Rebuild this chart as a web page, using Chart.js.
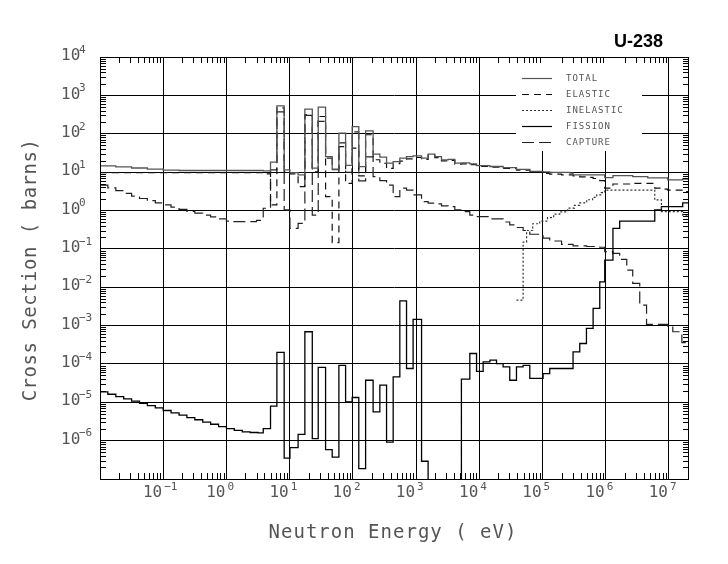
<!DOCTYPE html>
<html lang="en">
<head>
<meta charset="UTF-8" />
<title>U-238</title>
<script src="https://cdn.jsdelivr.net/npm/chart.js@4"></script>
<style>
  html, body { margin: 0; padding: 0; background: #fff; }
</style>
</head>
<body>
<canvas id="myChart" width="728" height="564"></canvas>
<script>
// energies in eV, cross sections in barns (each value holds until the next energy)
const totalE  = [0.01, 0.0178, 0.0316, 0.0562, 0.1, 0.178, 3.82, 4.98, 6.28, 8.19, 10.1, 13.6, 17.4, 22.8, 28.3, 37.0, 47.1, 60.1, 76.7, 97.5, 124, 159, 209, 267, 341, 434, 553, 706, 897, 1220, 1549, 1977, 2523, 3214, 4100, 5210, 7080, 9040, 14700, 23800, 38700, 62900, 102000, 130000, 270000, 304000, 964000, 1.30e6, 2.67e6, 4.62e6, 9.55e6, 1.65e7, 2e7];
const totalXS = [14.5, 13.6, 12.8, 12.0, 11.3, 11.0, 10.8, 18.2, 535, 11.4, 9.7, 8.5, 439, 12.7, 495, 25.4, 11.9, 104, 15, 154, 13.9, 119, 29.3, 24.5, 17.1, 18.8, 23.1, 25.4, 26.5, 23.1, 29.3, 25.4, 20.8, 21.4, 17.1, 17.3, 16.4, 14.8, 14.0, 13.0, 11.8, 10.5, 10.1, 9.8, 9.36, 8.5, 7.2, 8.1, 7.6, 7.1, 6.3, 6.6, 6.6];

const elasticE  = [0.01, 3.82, 4.98, 6.28, 8.19, 10.1, 13.6, 17.4, 22.8, 28.3, 37.0, 47.1, 60.1, 76.7, 97.5, 124, 159, 209, 267, 341, 434, 553, 706, 897, 1220, 1549, 1977, 2523, 3214, 4100, 5210, 7080, 9040, 14700, 23800, 38700, 62900, 102000, 130000, 200000, 304000, 388000, 495000, 631000, 804000, 964000, 1.30e6, 2.67e6, 5.96e6, 7.60e6, 9.55e6, 1.65e7, 2e7];
const elasticXS = [9.7, 8.97, 1.39, 474, 10.1, 8.97, 4.2, 311, 10.1, 281, 2.3, 0.144, 46, 5.1, 42, 8.0, 94, 21, 17, 12.5, 16.5, 19.3, 22, 24, 21.4, 27.7, 23.9, 19.5, 20.1, 16.1, 16.4, 15.6, 14.1, 13.5, 12.5, 11.3, 10.0, 9.2, 8.8, 8.5, 8.0, 7.5, 7.3, 6.8, 6.0, 3.8, 4.9, 5.1, 3.8, 3.6, 3.4, 3.1, 3.1];

const inelasticE  = [38700, 49300, 56000, 70000, 90300, 120000, 150000, 187000, 250000, 320000, 388000, 500000, 620000, 721000, 850000, 964000, 5.96e6, 7.60e6, 1.65e7, 2e7];
const inelasticXS = [0.0046, 0.15, 0.3, 0.45, 0.53, 0.65, 0.8, 0.92, 1.15, 1.35, 1.57, 1.9, 2.2, 2.54, 2.9, 3.4, 1.88, 0.93, 0.76, 0.76];

const fissionE  = [0.01, 0.0133, 0.0178, 0.0237, 0.0316, 0.0422, 0.0562, 0.075, 0.1, 0.133, 0.178, 0.237, 0.316, 0.422, 0.562, 0.75, 1.0, 1.33, 1.78, 2.37, 3.16, 3.82, 4.98, 6.28, 8.19, 10.1, 13.6, 17.4, 22.8, 28.3, 37.0, 47.1, 60.1, 76.7, 97.5, 124, 159, 209, 267, 341, 434, 553, 706, 897, 1220, 1549, 5210, 7080, 9040, 11500, 14700, 18700, 23800, 30300, 38700, 49300, 62900, 102000, 130000, 304000, 388000, 495000, 631000, 804000, 964000, 1.30e6, 1.66e6, 5.96e6, 7.60e6, 1.65e7, 2e7];
const fissionXS = [1.86e-5, 1.62e-5, 1.41e-5, 1.23e-5, 1.07e-5, 9.35e-6, 8.16e-6, 7.11e-6, 6.1e-6, 5.3e-6, 4.6e-6, 4.0e-6, 3.5e-6, 3.05e-6, 2.67e-6, 2.33e-6, 2.06e-6, 1.85e-6, 1.70e-6, 1.63e-6, 1.6e-6, 2.06e-6, 7.9e-6, 1.99e-4, 3.5e-7, 6.6e-7, 1.46e-6, 6.9e-4, 1.13e-6, 8.1e-5, 5.8e-7, 3.7e-7, 9.2e-5, 1.02e-5, 1.33e-5, 1.86e-7, 3.75e-5, 5.6e-6, 2.8e-5, 9.2e-7, 4.6e-5, 0.0044, 7.6e-5, 0.00144, 2.9e-7, 1e-9, 4.0e-5, 1.87e-4, 6.4e-5, 1.13e-4, 1.25e-4, 1.02e-4, 8.4e-5, 3.75e-5, 8.4e-5, 9.2e-5, 4.2e-5, 5.6e-5, 7.6e-5, 2.06e-4, 3.4e-4, 8.4e-4, 0.0028, 0.0138, 0.051, 0.34, 0.53, 1.03, 1.26, 1.57, 1.57];

const captureE  = [0.01, 0.0133, 0.0178, 0.0237, 0.0316, 0.0422, 0.0562, 0.075, 0.1, 0.133, 0.178, 0.237, 0.316, 0.422, 0.562, 0.75, 1.0, 1.13, 2.99, 3.82, 4.98, 6.28, 8.19, 10.1, 13.6, 17.4, 22.8, 28.3, 37.0, 47.1, 60.1, 76.7, 97.5, 124, 159, 209, 267, 341, 434, 553, 706, 897, 1220, 1549, 1977, 2523, 3214, 4100, 5210, 7080, 9040, 14700, 23800, 30300, 38700, 49300, 62900, 102000, 130000, 200000, 304000, 500000, 804000, 964000, 1.30e6, 1.66e6, 2.15e6, 2.67e6, 3.45e6, 4.42e6, 9.55e6, 1.15e7, 1.6e7, 2e7];
const captureXS = [4.6, 3.9, 3.3, 2.8, 2.35, 2.05, 1.8, 1.58, 1.39, 1.22, 1.07, 0.95, 0.85, 0.76, 0.68, 0.6, 0.53, 0.51, 0.55, 1.14, 11.4, 373, 1.03, 0.34, 0.46, 300, 0.76, 210, 23, 11.5, 58, 9.9, 112, 5.9, 25, 7.6, 6.0, 4.6, 2.3, 3.8, 3.4, 2.54, 1.7, 1.55, 1.48, 1.31, 1.26, 1.03, 0.93, 0.76, 0.69, 0.6, 0.5, 0.42, 0.36, 0.3, 0.24, 0.19, 0.16, 0.13, 0.12, 0.115, 0.11, 0.085, 0.076, 0.053, 0.028, 0.0125, 0.0034, 0.00107, 0.00096, 0.00069, 0.00036, 0.00036];

const xDecades = [-2, -1, 0, 1, 2, 3, 4, 5, 6, 7];
const yDecades = [-7, -6, -5, -4, -3, -2, -1, 0, 1, 2, 3, 4];
const xLabelDecades = [-1, 0, 1, 2, 3, 4, 5, 6, 7];
const yLabelDecades = [-6, -5, -4, -3, -2, -1, 0, 1, 2, 3, 4];

const textColor = '#555';
const monoFont = '"DejaVu Sans Mono", "Liberation Mono", monospace';

function pts(e, s) {
  return e.map((v, i) => ({ x: v, y: s[i] }));
}

function line(label, e, s, color, dash, width) {
  return {
    label: label,
    data: pts(e, s),
    borderColor: color,
    borderWidth: width,
    borderDash: dash,
    pointRadius: 0,
    stepped: 'before',
    fill: false
  };
}

function expText(p) {
  return p < 0 ? '\u2212' + (-p) : String(p);
}

// white legend box with line samples
const legendBox = {
  id: 'legendBox',
  afterDatasetsDraw(chart) {
    const ctx = chart.ctx;
    ctx.save();
    ctx.fillStyle = '#fff';
    ctx.fillRect(516, 58, 126, 93);
    chart.data.datasets.forEach((ds, i) => {
      const yy = Math.round(77.7 + i * 16.15) + 0.5;
      ctx.strokeStyle = ds.borderColor;
      ctx.lineWidth = 1.2;
      ctx.setLineDash(ds.borderDash || []);
      ctx.beginPath();
      ctx.moveTo(522, yy);
      ctx.lineTo(552, yy);
      ctx.stroke();
      ctx.setLineDash([]);
      ctx.fillStyle = textColor;
      ctx.font = '9px ' + monoFont;
      ctx.letterSpacing = '1px';
      ctx.textAlign = 'left';
      ctx.textBaseline = 'middle';
      ctx.fillText(ds.label, 566, yy);
    });
    ctx.restore();
  }
};

// inward minor ticks on all four sides, frame and text
const frameAndText = {
  id: 'frameAndText',
  afterDraw(chart) {
    const { ctx, chartArea: a, scales: { x, y } } = chart;
    ctx.save();
    ctx.strokeStyle = '#000';
    ctx.lineWidth = 1;
    ctx.beginPath();
    xDecades.forEach(k => {
      for (let m = 2; m <= 9; m++) {
        const v = m * Math.pow(10, k);
        if (v >= x.max) continue;
        const px = Math.round(x.getPixelForValue(v)) + 0.5;
        ctx.moveTo(px, a.top); ctx.lineTo(px, a.top + 6);
        ctx.moveTo(px, a.bottom); ctx.lineTo(px, a.bottom - 6);
      }
    });
    yDecades.forEach(k => {
      for (let m = 2; m <= 9; m++) {
        const v = m * Math.pow(10, k);
        if (v >= y.max) continue;
        const py = Math.round(y.getPixelForValue(v)) + 0.5;
        ctx.moveTo(a.left, py); ctx.lineTo(a.left + 6, py);
        ctx.moveTo(a.right, py); ctx.lineTo(a.right - 5, py);
      }
    });
    ctx.stroke();
    ctx.strokeRect(Math.round(a.left) + 0.5, Math.round(a.top) + 0.5,
      Math.round(a.right - a.left), Math.round(a.bottom - a.top));

    ctx.fillStyle = textColor;
    ctx.textBaseline = 'middle';
    // y tick labels
    yLabelDecades.forEach(p => {
      const py = y.getPixelForValue(Math.pow(10, p));
      ctx.textAlign = 'left';
      ctx.font = '16px ' + monoFont;
      ctx.fillText('10', 61, py - 1);
      ctx.font = '11px ' + monoFont;
      ctx.fillText(expText(p), 79, py - 7);
    });
    // x tick labels
    xLabelDecades.forEach(p => {
      const px = x.getPixelForValue(Math.pow(10, p));
      ctx.font = '16px ' + monoFont;
      ctx.textAlign = 'right';
      ctx.fillText('10', px - 1, 493);
      ctx.font = '11px ' + monoFont;
      ctx.textAlign = 'left';
      ctx.fillText(expText(p), px + 1, 487);
    });
    // axis titles
    ctx.font = '19px ' + monoFont;
    ctx.letterSpacing = '1px';
    ctx.textAlign = 'center';
    ctx.textBaseline = 'alphabetic';
    ctx.fillText('Neutron Energy ( eV)', 393, 538);
    ctx.save();
    ctx.translate(36, 270);
    ctx.rotate(-Math.PI / 2);
    ctx.letterSpacing = '0.5px';
    ctx.fillText('Cross Section ( barns)', 0, 0);
    ctx.restore();
    // title
    ctx.letterSpacing = '0px';
    ctx.fillStyle = '#000';
    ctx.font = 'bold 18px "Liberation Sans", Arial, sans-serif';
    ctx.textAlign = 'right';
    ctx.fillText('U-238', 663, 47);
    ctx.restore();
  }
};

const ctx = document.getElementById('myChart').getContext('2d');
new Chart(ctx, {
  type: 'line',
  data: {
    datasets: [
      line('TOTAL', totalE, totalXS, '#555', [], 1.3),
      line('ELASTIC', elasticE, elasticXS, '#111', [7, 5], 1.2),
      line('INELASTIC', inelasticE, inelasticXS, '#333', [2, 2], 1.2),
      line('FISSION', fissionE, fissionXS, '#000', [], 1.3),
      line('CAPTURE', captureE, captureXS, '#222', [12, 5], 1.2)
    ]
  },
  options: {
    responsive: false,
    animation: false,
    devicePixelRatio: 1,
    layout: { padding: { left: 100, right: 40, top: 57, bottom: 85 } },
    plugins: { legend: { display: false }, tooltip: { enabled: false } },
    scales: {
      x: {
        type: 'logarithmic',
        min: 0.01,
        max: 2e7,
        afterBuildTicks: s => { s.ticks = xDecades.map(k => ({ value: Math.pow(10, k) })); },
        ticks: { display: false },
        grid: { color: '#000', lineWidth: 1, drawTicks: false },
        border: { display: true, color: '#000' }
      },
      y: {
        type: 'logarithmic',
        min: 1e-7,
        max: 1e4,
        afterBuildTicks: s => { s.ticks = yDecades.map(k => ({ value: Math.pow(10, k) })); },
        ticks: { display: false },
        grid: { color: '#000', lineWidth: 1, drawTicks: false },
        border: { display: true, color: '#000' }
      }
    }
  },
  plugins: [legendBox, frameAndText]
});
</script>
</body>
</html>
